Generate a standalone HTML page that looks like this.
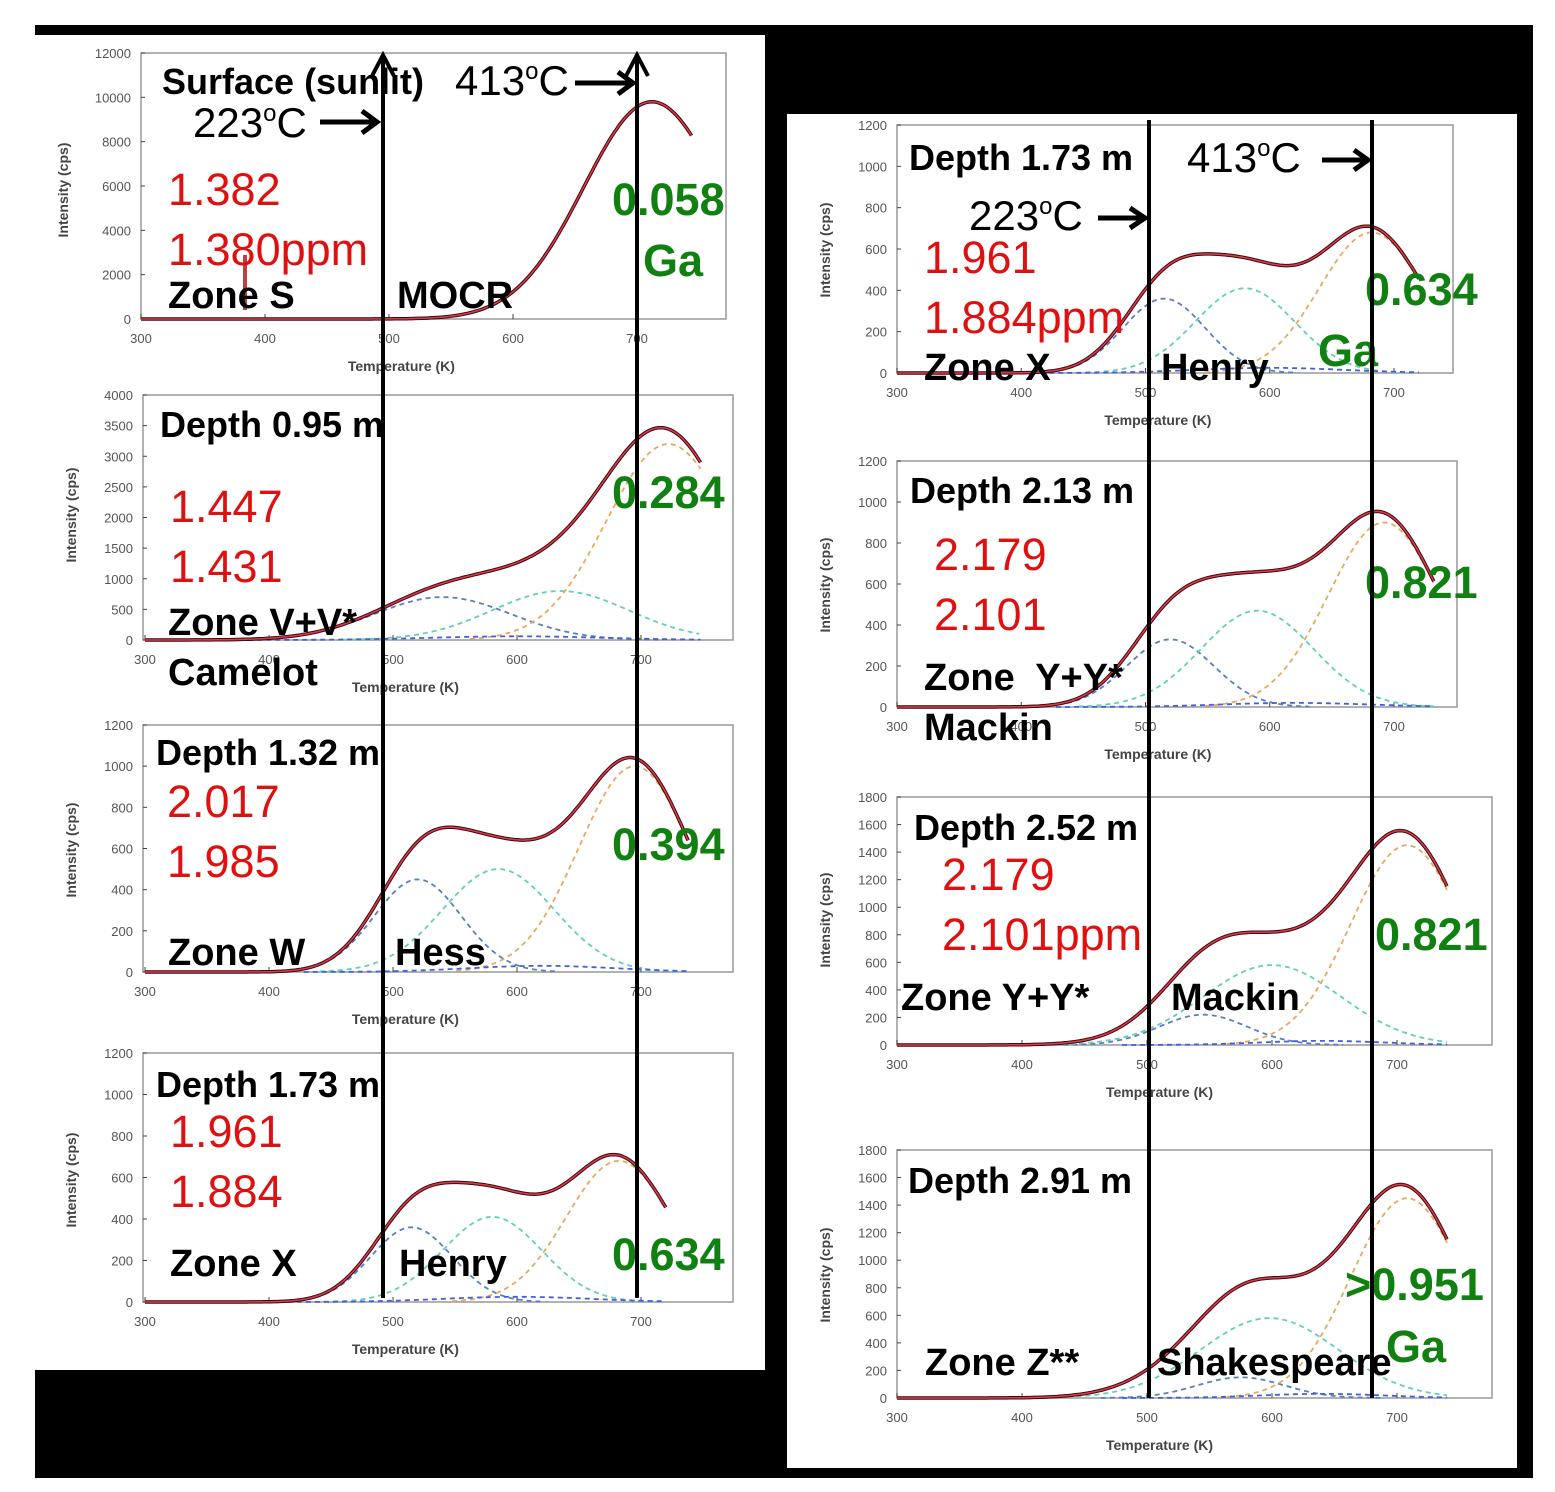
<!DOCTYPE html>
<html><head><meta charset="utf-8"><style>
html,body{margin:0;padding:0;background:#fff;}
svg{display:block}
text{font-family:"Liberation Sans",Arial,sans-serif}
.b{font-weight:bold;fill:#000;font-size:38px}
.r{fill:#e01010;font-size:45px}
.g{fill:#108010;font-weight:bold;font-size:45px}
.k{fill:#000;font-size:44px}
.t{fill:#555;font-size:13px}
.at{fill:#444;font-size:14px;font-weight:bold}
</style></head><body>
<svg id="s" width="1555" height="1492" viewBox="0 0 1555 1492" xmlns="http://www.w3.org/2000/svg">
<rect x="0" y="0" width="1555" height="1492" fill="#fff"/>
<rect x="35" y="25" width="1498" height="1453" fill="#000"/>
<rect x="35" y="35" width="730" height="1335" fill="#fff"/>
<rect x="787" y="114" width="730" height="1354" fill="#fff"/>
<g id="plots"></g>
<g id="txt">
<text x="162" y="94" class="b" style="font-size:36px">Surface (sunlit)</text>
<text x="455" y="95" class="k" style="font-size:42px">413<tspan dy="-16" style="font-size:24px">o</tspan><tspan dy="16">C</tspan></text>
<text x="193" y="137" class="k" style="font-size:42px">223<tspan dy="-16" style="font-size:24px">o</tspan><tspan dy="16">C</tspan></text>
<rect x="243" y="255" width="4" height="55" fill="#c04040"/>
<text x="168" y="205" class="r">1.382</text>
<text x="168" y="265" class="r">1.380ppm</text>
<text x="168" y="308" class="b">Zone S</text>
<text x="397" y="308" class="b">MOCR</text>
<text x="612" y="215" class="g">0.058</text>
<text x="643" y="276" class="g">Ga</text>
<text x="160" y="437" class="b" style="font-size:36px">Depth 0.95 m</text>
<text x="170" y="522" class="r">1.447</text>
<text x="170" y="582" class="r">1.431</text>
<text x="168" y="635" class="b">Zone V+V*</text>
<text x="168" y="685" class="b">Camelot</text>
<text x="612" y="508" class="g">0.284</text>
<text x="156" y="765" class="b" style="font-size:36px">Depth 1.32 m</text>
<text x="167" y="817" class="r">2.017</text>
<text x="167" y="877" class="r">1.985</text>
<text x="168" y="965" class="b">Zone W</text>
<text x="395" y="965" class="b">Hess</text>
<text x="612" y="860" class="g">0.394</text>
<text x="156" y="1097" class="b" style="font-size:36px">Depth 1.73 m</text>
<text x="170" y="1147" class="r">1.961</text>
<text x="170" y="1207" class="r">1.884</text>
<text x="170" y="1276" class="b">Zone X</text>
<text x="399" y="1276" class="b">Henry</text>
<text x="612" y="1270" class="g">0.634</text>
<text x="909" y="170" class="b" style="font-size:36px">Depth 1.73 m</text>
<text x="1187" y="172" class="k" style="font-size:42px">413<tspan dy="-16" style="font-size:24px">o</tspan><tspan dy="16">C</tspan></text>
<text x="969" y="230" class="k" style="font-size:42px">223<tspan dy="-16" style="font-size:24px">o</tspan><tspan dy="16">C</tspan></text>
<text x="924" y="273" class="r">1.961</text>
<text x="924" y="333" class="r">1.884ppm</text>
<text x="924" y="380" class="b">Zone X</text>
<text x="1161" y="380" class="b">Henry</text>
<text x="1365" y="305" class="g">0.634</text>
<text x="1318" y="366" class="g">Ga</text>
<text x="910" y="503" class="b" style="font-size:36px">Depth 2.13 m</text>
<text x="934" y="570" class="r">2.179</text>
<text x="934" y="630" class="r">2.101</text>
<text x="924" y="690" class="b" xml:space="preserve">Zone  Y+Y*</text>
<text x="924" y="740" class="b">Mackin</text>
<text x="1365" y="598" class="g">0.821</text>
<text x="914" y="840" class="b" style="font-size:36px">Depth 2.52 m</text>
<text x="942" y="890" class="r">2.179</text>
<text x="942" y="950" class="r">2.101ppm</text>
<text x="901" y="1010" class="b">Zone Y+Y*</text>
<text x="1171" y="1010" class="b">Mackin</text>
<text x="1375" y="950" class="g">0.821</text>
<text x="908" y="1193" class="b" style="font-size:36px">Depth 2.91 m</text>
<text x="1345" y="1300" class="g">&gt;0.951</text>
<text x="1386" y="1362" class="g">Ga</text>
<text x="925" y="1375" class="b">Zone Z**</text>
<text x="1157" y="1375" class="b">Shakespeare</text>
</g>
<g id="lines" stroke="#000" fill="#000">
<line x1="383" y1="58" x2="383" y2="1298" stroke-width="4"/>
<line x1="637" y1="58" x2="637" y2="1298" stroke-width="4"/>
<polyline points="626,76 637,55 648,76" fill="none" stroke-width="4"/>
<polyline points="372,76 383,55 394,76" fill="none" stroke-width="4"/>
<line x1="575" y1="83" x2="632" y2="83" stroke-width="5"/>
<polyline points="618,72 633,83 618,94" fill="none" stroke-width="5"/>
<line x1="320" y1="122" x2="376" y2="122" stroke-width="5"/>
<polyline points="362,111 377,122 362,133" fill="none" stroke-width="5"/>
<line x1="1149" y1="120" x2="1149" y2="1398" stroke-width="4"/>
<line x1="1372" y1="120" x2="1372" y2="1398" stroke-width="4"/>
<line x1="1322" y1="160" x2="1367" y2="160" stroke-width="5"/>
<polyline points="1354,150 1368,160 1354,170" fill="none" stroke-width="5"/>
<line x1="1098" y1="218" x2="1144" y2="218" stroke-width="5"/>
<polyline points="1130,208 1145,218 1130,228" fill="none" stroke-width="5"/>
</g>
</svg>
<script>
var NS="http://www.w3.org/2000/svg";
var g=document.getElementById("plots");
function el(n,a,t){var e=document.createElementNS(NS,n);for(var k in a)e.setAttribute(k,a[k]);if(t!==undefined)e.textContent=t;g.appendChild(e);return e;}
var P=[
 {box:[141,53,726,319],x3:141,x7:637,ymax:12000,st:2000,end:745,c:[[712,9800,55]],ylab:[68,190]},
 {box:[143,395,733,640],x3:145,x7:641,ymax:4000,st:500,end:748,c:[[540,700,55],[635,800,55],[722,3200,50],[600,60,70]],ylab:[76,515]},
 {box:[143,725,733,972],x3:145,x7:641,ymax:1200,st:200,end:738,c:[[520,450,35],[585,500,45],[695,1000,45],[620,30,60]],ylab:[76,850]},
 {box:[143,1053,733,1302],x3:145,x7:641,ymax:1200,st:200,end:720,c:[[515,360,33],[580,410,40],[682,680,42],[600,25,60],[560,40,50,1]],ylab:[76,1180]},
 {box:[897,125,1453,373],x3:897,x7:1394,ymax:1200,st:200,end:720,c:[[515,360,33],[580,410,40],[682,680,42],[600,25,60],[560,40,50,1]],ylab:[830,250]},
 {box:[897,461,1457,707],x3:897,x7:1394,ymax:1200,st:200,end:733,c:[[520,330,35],[590,470,45],[692,900,45],[620,20,60],[560,70,50,1]],ylab:[830,585]},
 {box:[897,797,1492,1045],x3:897,x7:1397,ymax:1800,st:200,end:740,c:[[545,220,35],[600,580,55],[708,1450,45],[640,30,50],[550,120,50,1]],ylab:[830,920]},
 {box:[897,1150,1492,1398],x3:897,x7:1397,ymax:1800,st:200,end:740,c:[[575,150,35],[598,580,55],[708,1450,45],[640,30,50],[550,120,50,1]],ylab:[830,1275]}
];
var cols=["#5a7fc0","#60d0b8","#e8a860","#4060e0"];
P.forEach(function(p){
 var b=p.box,l=b[0],t=b[1],r=b[2],bt=b[3];
 el("rect",{x:l,y:t,width:r-l,height:bt-t,fill:"none",stroke:"#999","stroke-width":1.5});
 var sx=(p.x7-p.x3)/400;
 function X(T){return p.x3+(T-300)*sx;}
 function Y(v){return bt-v/p.ymax*(bt-t);}
 for(var v=0;v<=p.ymax;v+=p.st){el("text",{x:l-10,y:Y(v)+5,"text-anchor":"end",class:"t"},String(v));el("line",{x1:l,x2:l+4,y1:Y(v),y2:Y(v),stroke:"#444"});}
 for(var T=300;T<=700;T+=100){el("text",{x:X(T),y:bt+24,"text-anchor":"middle",class:"t"},String(T));el("line",{x1:X(T),x2:X(T),y1:bt,y2:bt-5,stroke:"#444"});}
 el("text",{x:X(510),y:bt+52,"text-anchor":"middle",class:"at"},"Temperature (K)");
 el("text",{x:p.ylab[0],y:p.ylab[1],"text-anchor":"middle",class:"at",transform:"rotate(-90 "+p.ylab[0]+" "+p.ylab[1]+")"},"Intensity (cps)");
 function G(c,T){return c[1]*Math.exp(-Math.pow((T-c[0])/c[2],2)/2);}
 if(p.c.length>1)p.c.forEach(function(c,i){if(c[3])return;var d="";for(var T=Math.max(300,c[0]-3.2*c[2]);T<=Math.min(p.end,c[0]+3.2*c[2]);T+=2){d+=(d?"L":"M")+X(T).toFixed(1)+","+Y(G(c,T)).toFixed(1);}
  el("path",{d:d,fill:"none",stroke:cols[i],"stroke-width":1.8,"stroke-dasharray":"5,4"});});
 var d="";for(var T=300;T<=p.end;T+=2){var s=0;p.c.forEach(function(c){s+=G(c,T);});d+=(d?"L":"M")+X(T).toFixed(1)+","+Y(s).toFixed(1);}
 el("path",{d:d,fill:"none",stroke:"#3a0a10","stroke-width":3.5});
 el("path",{d:d,fill:"none",stroke:"#e03a4a","stroke-width":1.5});
});
</script>
</body></html>
